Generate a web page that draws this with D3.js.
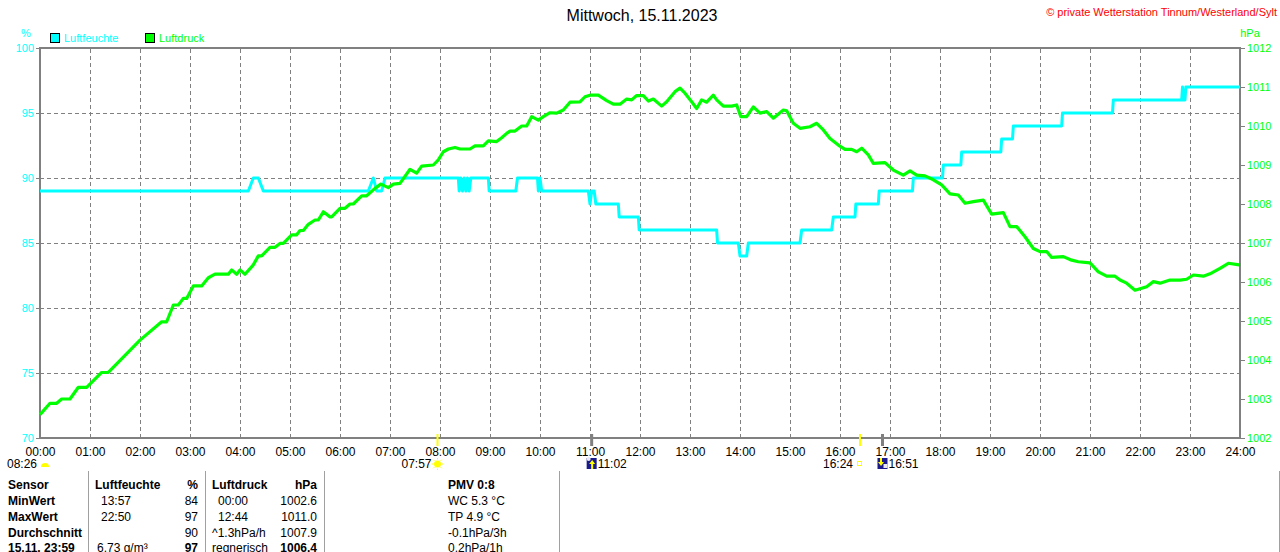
<!DOCTYPE html>
<html>
<head>
<meta charset="utf-8">
<script src="https://cdn.jsdelivr.net/npm/d3@7"></script>
<style>
  html, body { margin: 0; padding: 0; background: #fff; }
  svg { display: block; font-family: "Liberation Sans", Arial, sans-serif; }
</style>
</head>
<body>
<svg id="chart" width="1280" height="552"></svg>
<script>
// ---------- data ----------
const titleText = "Mittwoch, 15.11.2023";
const copyrightText = "\u00A9 private Wetterstation Tinnum/Westerland/Sylt";
const seriesNames = ["Luftfeuchte", "Luftdruck"];
const hourTicks = d3.range(0, 25);
const hourLabels = hourTicks.map(h => String(h).padStart(2, "0") + ":00");
const humTicks = [70, 75, 80, 85, 90, 95, 100];
const presTicks = [1002, 1003, 1004, 1005, 1006, 1007, 1008, 1009, 1010, 1011, 1012];

// Luftfeuchte (%) – minutes since midnight
const humT = [0, 250, 256, 262, 268, 394, 400, 404, 410, 414, 502, 503, 505, 507, 509, 511, 513, 515, 517, 538, 539, 571, 573, 597, 598, 600, 602, 658, 660, 662, 665, 667, 694, 695, 718, 719, 812, 813, 838, 840, 848, 850, 912, 914, 950, 952, 978, 979, 1006, 1007, 1047, 1048, 1083, 1084, 1105, 1106, 1153, 1154, 1167, 1168, 1226, 1227, 1287, 1288, 1370, 1371, 1372, 1374, 1375, 1440];
const humV = [89, 89, 90, 90, 89, 89, 90, 89, 89, 90, 90, 89, 90, 89, 90, 89, 90, 89, 90, 90, 89, 89, 90, 90, 89, 90, 89, 89, 88, 89, 89, 88, 88, 87, 87, 86, 86, 85, 85, 84, 84, 85, 85, 86, 86, 87, 87, 88, 88, 89, 89, 90, 90, 91, 91, 92, 92, 93, 93, 94, 94, 95, 95, 96, 96, 97, 96, 96, 97, 97];

// Luftdruck (hPa) – minutes since midnight
const presT = [0, 12, 20, 26, 36, 46, 56, 74, 82, 120, 146, 152, 160, 166, 172, 176, 184, 194, 202, 210, 226, 230, 236, 240, 246, 256, 262, 266, 276, 282, 288, 292, 302, 308, 312, 316, 322, 330, 334, 340, 348, 350, 360, 366, 372, 376, 386, 392, 402, 409, 418, 424, 432, 444, 452, 458, 472, 478, 484, 490, 498, 504, 516, 522, 532, 538, 548, 554, 560, 564, 570, 578, 584, 590, 598, 604, 612, 620, 628, 636, 648, 654, 660, 670, 680, 688, 696, 704, 710, 716, 724, 730, 736, 746, 752, 762, 768, 774, 782, 788, 794, 800, 808, 812, 820, 830, 836, 841, 848, 856, 864, 872, 880, 892, 896, 904, 912, 924, 932, 940, 948, 958, 966, 974, 980, 986, 994, 1000, 1014, 1024, 1036, 1044, 1052, 1062, 1072, 1082, 1092, 1102, 1110, 1120, 1132, 1142, 1156, 1164, 1172, 1182, 1192, 1200, 1208, 1214, 1228, 1238, 1246, 1260, 1270, 1280, 1290, 1296, 1304, 1314, 1322, 1328, 1336, 1344, 1356, 1368, 1376, 1384, 1396, 1404, 1416, 1426, 1439];
const presV = [1002.60, 1002.89, 1002.89, 1003.00, 1003.00, 1003.30, 1003.30, 1003.68, 1003.68, 1004.51, 1004.98, 1004.98, 1005.41, 1005.41, 1005.58, 1005.58, 1005.90, 1005.90, 1006.11, 1006.20, 1006.20, 1006.31, 1006.20, 1006.31, 1006.20, 1006.44, 1006.67, 1006.67, 1006.89, 1006.89, 1006.99, 1006.99, 1007.21, 1007.21, 1007.32, 1007.32, 1007.48, 1007.59, 1007.59, 1007.80, 1007.67, 1007.67, 1007.89, 1007.89, 1008.00, 1008.00, 1008.21, 1008.21, 1008.40, 1008.51, 1008.42, 1008.51, 1008.53, 1008.89, 1008.79, 1008.97, 1009.00, 1009.13, 1009.34, 1009.41, 1009.45, 1009.41, 1009.41, 1009.49, 1009.49, 1009.62, 1009.60, 1009.70, 1009.81, 1009.87, 1009.87, 1010.00, 1010.00, 1010.24, 1010.15, 1010.24, 1010.34, 1010.33, 1010.41, 1010.61, 1010.62, 1010.75, 1010.79, 1010.79, 1010.65, 1010.56, 1010.56, 1010.69, 1010.67, 1010.78, 1010.78, 1010.64, 1010.69, 1010.51, 1010.62, 1010.88, 1010.97, 1010.84, 1010.62, 1010.45, 1010.67, 1010.61, 1010.79, 1010.67, 1010.51, 1010.51, 1010.54, 1010.24, 1010.24, 1010.49, 1010.33, 1010.37, 1010.20, 1010.41, 1010.39, 1010.07, 1009.94, 1009.98, 1010.07, 1009.90, 1009.68, 1009.51, 1009.40, 1009.40, 1009.34, 1009.43, 1009.26, 1009.04, 1009.06, 1008.87, 1008.74, 1008.85, 1008.74, 1008.72, 1008.62, 1008.49, 1008.26, 1008.23, 1008.02, 1008.06, 1008.10, 1007.74, 1007.78, 1007.42, 1007.42, 1007.16, 1006.86, 1006.78, 1006.78, 1006.63, 1006.65, 1006.56, 1006.52, 1006.49, 1006.26, 1006.15, 1006.15, 1006.05, 1005.97, 1005.79, 1005.84, 1005.88, 1006.01, 1005.97, 1006.05, 1006.05, 1006.07, 1006.18, 1006.15, 1006.21, 1006.35, 1006.48, 1006.44];

// astronomical events (minutes since midnight) and labels
const sunriseMin = 477, sunsetMin = 984, moonriseMin = 662, moonsetMin = 1011;
const dayLengthLabel = "08:26";

// statistics table
const tableRows = [
  ["Sensor", "Luftfeuchte", "%", "Luftdruck", "hPa", "PMV 0:8"],
  ["MinWert", "13:57", "84", "00:00", "1002.6", "WC 5.3 \u00B0C"],
  ["MaxWert", "22:50", "97", "12:44", "1011.0", "TP 4.9 \u00B0C"],
  ["Durchschnitt", "", "90", "^1.3hPa/h", "1007.9", "-0.1hPa/3h"],
  ["15.11. 23:59", "6.73 g/m\u00B3", "97", "regnerisch", "1006.4", "0.2hPa/1h"]
];

// ---------- drawing ----------
const CYAN = "#00ffff", GREEN = "#00ff00", GRAY = "#808080";
const FONT = "Liberation Sans, Arial, sans-serif";
const svg = d3.select("#chart");
const L = 40, R = 1240, T = 48, B = 438;

const x = d3.scaleLinear().domain([0, 1440]).range([L, R]);
const yH = d3.scaleLinear().domain([70, 100]).range([B, T]);
const yP = d3.scaleLinear().domain([1002, 1012]).range([B, T]);

// grid
const vGrid = svg.append("g").attr("transform", `translate(0,${B})`)
  .call(d3.axisBottom(x).tickValues(hourTicks.slice(1, 24).map(h => h * 60)).tickSize(-(B - T)).tickFormat(""));
vGrid.select(".domain").remove();
vGrid.selectAll("line").attr("stroke", GRAY).attr("stroke-dasharray", "4,3").attr("shape-rendering", "crispEdges");

const hGrid = svg.append("g").attr("transform", `translate(${L},0)`)
  .call(d3.axisLeft(yH).tickValues(humTicks.slice(1, 6)).tickSize(-(R - L)).tickFormat(""));
hGrid.select(".domain").remove();
hGrid.selectAll("line").attr("stroke", GRAY).attr("stroke-dasharray", "4,3").attr("shape-rendering", "crispEdges");

// frame
svg.append("rect").attr("x", L).attr("y", T).attr("width", R - L).attr("height", B - T)
  .attr("fill", "none").attr("stroke", GRAY).attr("stroke-width", 2).attr("shape-rendering", "crispEdges");

// left axis
const axL = svg.append("g").attr("transform", `translate(${L},0)`)
  .call(d3.axisLeft(yH).tickValues(humTicks).tickSize(4).tickPadding(2).tickFormat(d3.format("d")));
axL.select(".domain").remove();
axL.selectAll("line").attr("stroke", GRAY);
axL.selectAll("text").attr("fill", CYAN).attr("font-size", 11).attr("font-family", FONT);

// right axis
const axR = svg.append("g").attr("transform", `translate(${R},0)`)
  .call(d3.axisRight(yP).tickValues(presTicks).tickSize(5).tickPadding(2).tickFormat(d3.format("d")));
axR.select(".domain").remove();
axR.selectAll("line").attr("stroke", GRAY);
axR.selectAll("text").attr("fill", GREEN).attr("font-size", 11).attr("font-family", FONT);

// bottom axis labels
const axB = svg.append("g").attr("transform", `translate(0,${B})`)
  .call(d3.axisBottom(x).tickValues(hourTicks.map(h => h * 60)).tickSize(0).tickPadding(9)
    .tickFormat((d, i) => hourLabels[i]));
axB.select(".domain").remove();
axB.selectAll("text").attr("fill", "#000").attr("font-size", 12).attr("font-family", FONT);

// series
const humData = humT.map((t, i) => [t, humV[i]]);
const presData = presT.map((t, i) => [t, presV[i]]);
svg.append("path").datum(humData)
  .attr("d", d3.line().x(d => x(d[0])).y(d => yH(d[1])))
  .attr("fill", "none").attr("stroke", CYAN).attr("stroke-width", 3).attr("stroke-linejoin", "round");
svg.append("path").datum(presData)
  .attr("d", d3.line().x(d => x(d[0])).y(d => yP(d[1])))
  .attr("fill", "none").attr("stroke", GREEN).attr("stroke-width", 3.2).attr("stroke-linejoin", "round");

// title & header
svg.append("text").attr("x", 642).attr("y", 21).attr("text-anchor", "middle")
  .attr("font-size", 16).attr("fill", "#000").text(titleText);
svg.append("text").attr("x", 1277).attr("y", 16).attr("text-anchor", "end")
  .attr("font-size", 11).attr("fill", "#ff0000").text(copyrightText);
svg.append("text").attr("x", 26).attr("y", 37).attr("text-anchor", "middle")
  .attr("font-size", 11).attr("fill", CYAN).text("%");
svg.append("text").attr("x", 1250).attr("y", 37).attr("text-anchor", "middle")
  .attr("font-size", 11).attr("fill", GREEN).text("hPa");

// legend
const legendColors = [CYAN, GREEN];
const legendX = [50, 145];
seriesNames.forEach((name, i) => {
  svg.append("rect").attr("x", legendX[i] + 0.5).attr("y", 33.5).attr("width", 9).attr("height", 9)
    .attr("fill", legendColors[i]).attr("stroke", "#000").attr("stroke-width", 1);
  svg.append("text").attr("x", legendX[i] + 14).attr("y", 42).attr("font-size", 11)
    .attr("fill", legendColors[i]).text(name);
});

// event markers on the time axis
[[sunriseMin, "#ffff00", 2], [sunsetMin, "#ffff00", 2], [moonriseMin, GRAY, 3], [moonsetMin, GRAY, 3]]
  .forEach(([m, c, w]) => {
    svg.append("line").attr("x1", x(m)).attr("x2", x(m)).attr("y1", 434).attr("y2", 446)
      .attr("stroke", c).attr("stroke-width", w);
  });

const ev = svg.append("g").attr("font-size", 12).attr("fill", "#000");
// day length + sunrise dome
ev.append("text").attr("x", x(0) - 3).attr("y", 468).attr("text-anchor", "end").text(dayLengthLabel);
ev.append("path").attr("d", `M${x(0) + 1},467 a4,4 0 0 1 8,0 z`).attr("fill", "#ffff00");
// sunrise
ev.append("text").attr("x", x(sunriseMin) - 6).attr("y", 468).attr("text-anchor", "end").text("07:57");
ev.append("circle").attr("cx", x(sunriseMin)).attr("cy", 464).attr("r", 3.5).attr("fill", "#ffff00");
d3.range(8).forEach(k => {
  const a = k * Math.PI / 4;
  ev.append("line").attr("x1", x(sunriseMin) + Math.cos(a) * 4.5).attr("y1", 464 + Math.sin(a) * 4.5)
    .attr("x2", x(sunriseMin) + Math.cos(a) * 6).attr("y2", 464 + Math.sin(a) * 6)
    .attr("stroke", "#ffff00").attr("stroke-width", 1);
});
// moonrise
ev.append("rect").attr("x", x(moonriseMin) - 5).attr("y", 458).attr("width", 10).attr("height", 11).attr("fill", "#1a1a8c");
ev.append("circle").attr("cx", x(moonriseMin) - 3).attr("cy", 459).attr("r", 2).attr("fill", "#e8e8f0");
ev.append("path").attr("d", `M${x(moonriseMin) + 0.5},460 l-3,4 h2 v5 h2 v-5 h2 z`).attr("fill", "#ffff00");
ev.append("text").attr("x", x(moonriseMin) + 6).attr("y", 468).text("11:02");
// sunset
ev.append("text").attr("x", x(sunsetMin) - 7).attr("y", 468).attr("text-anchor", "end").text("16:24");
ev.append("rect").attr("x", x(sunsetMin) - 2.5).attr("y", 461.5).attr("width", 4).attr("height", 4)
  .attr("fill", "none").attr("stroke", "#ffff00").attr("stroke-width", 1);
// moonset
ev.append("rect").attr("x", x(moonsetMin) - 5).attr("y", 458).attr("width", 10).attr("height", 11).attr("fill", "#1a1a8c");
ev.append("path").attr("d", `M${x(moonsetMin) - 2.5},458 h2 v4 h2 l-3,4 l-3,-4 h2 z`).attr("fill", "#ffff00");
ev.append("rect").attr("x", x(moonsetMin) + 1).attr("y", 464).attr("width", 4).attr("height", 4).attr("fill", "#e8e8f0");
ev.append("text").attr("x", x(moonsetMin) + 6).attr("y", 468).text("16:51");

// table separators
[88, 205, 324, 559, 1279].forEach(sx => {
  svg.append("line").attr("x1", sx + 0.5).attr("x2", sx + 0.5).attr("y1", 471).attr("y2", 552)
    .attr("stroke", "#a0a0a0").attr("stroke-width", 1);
});

// table text
const colX = [8, 95, 198, 212, 317, 448];
const colAnchor = ["start", "start", "end", "start", "end", "start"];
const rowY = [489, 505, 521, 537, 552];
tableRows.forEach((row, r) => {
  row.forEach((cell, c) => {
    const bold = r === 0 || c === 0 || (r === 4 && (c === 2 || c === 4));
    let cx = colX[c];
    if (r > 0 && (c === 1 || c === 3) && r < 3) cx += 6;
    if (r === 4 && c === 1) cx += 2;
    svg.append("text").attr("x", cx).attr("y", rowY[r]).attr("text-anchor", colAnchor[c])
      .attr("font-size", 12).attr("font-weight", bold ? "bold" : "normal").attr("fill", "#000").text(cell);
  });
});
</script>
</body>
</html>
